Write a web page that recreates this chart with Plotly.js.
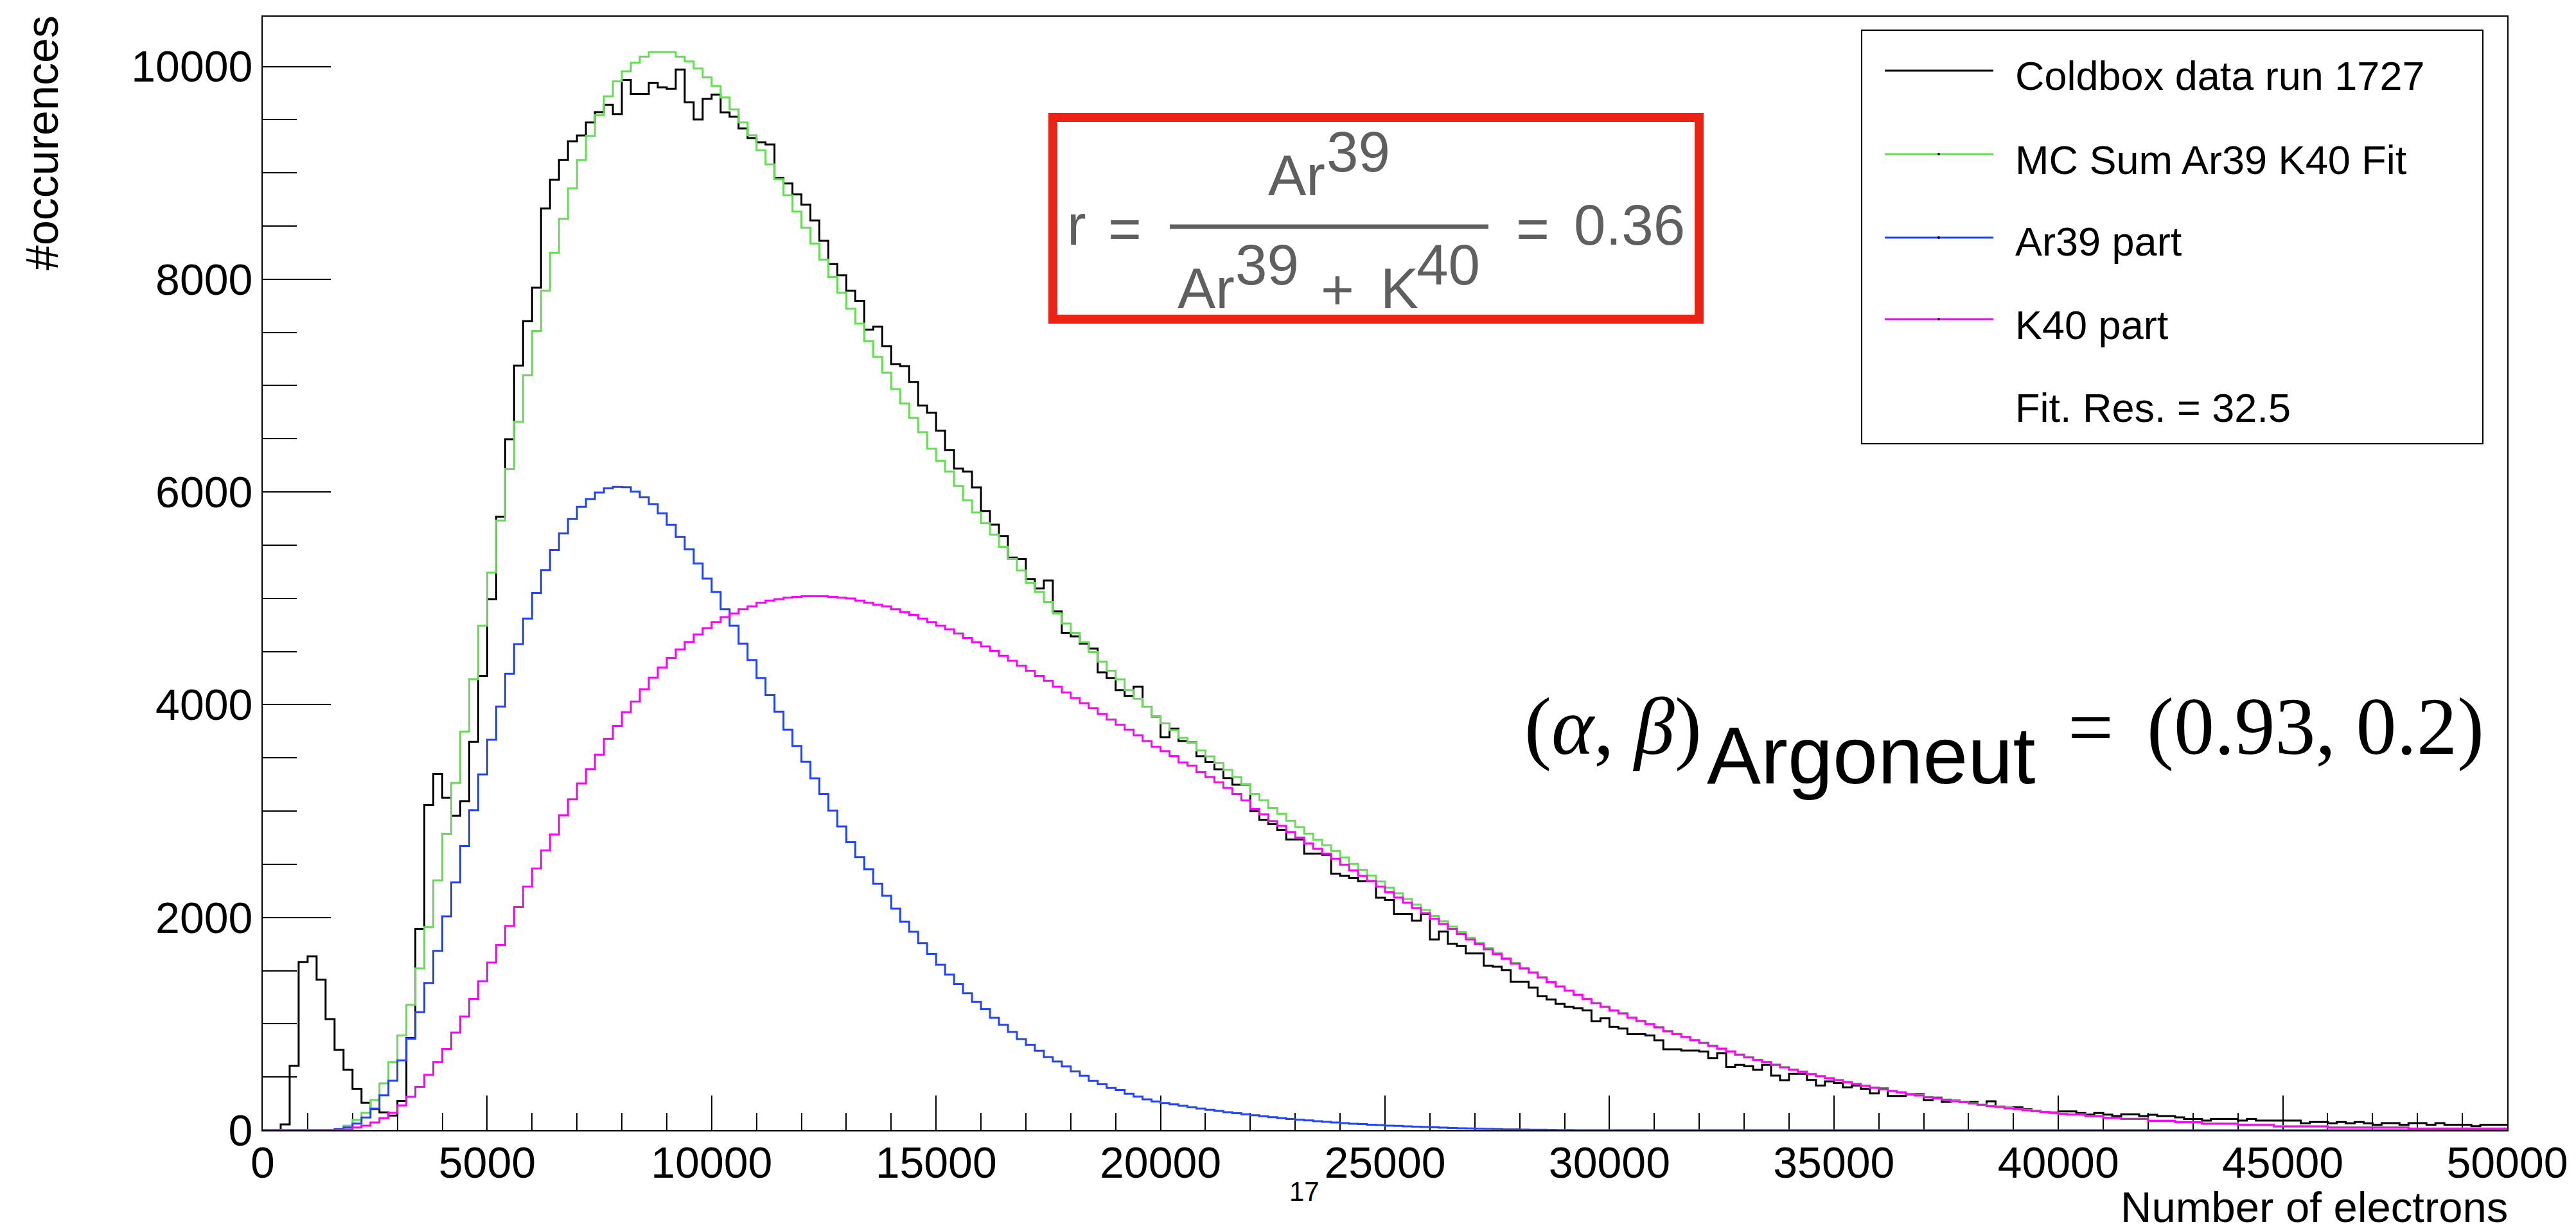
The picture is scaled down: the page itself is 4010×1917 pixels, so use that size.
<!DOCTYPE html>
<html>
<head>
<meta charset="utf-8">
<script src="https://cdn.plot.ly/plotly-3.0.1.min.js"></script>
<style>
  html, body { margin: 0; padding: 0; background: #ffffff; }
  #chart { width: 4010px; height: 1917px; }
</style>
</head>
<body>
<div id="chart"></div>
<script>
// ---------------- DATA (histograms, 250 bins of 200 electrons, 0..50000) ----------------
const X_MIN = 0;
const X_MAX = 50000;
const N_BINS = 250;

const seriesNames = ["Coldbox data run 1727", "MC Sum Ar39 K40 Fit", "Ar39 part", "K40 part"];
const fitResidual = "Fit. Res. = 32.5";

const coldboxData = [
0,0,55,605,1580,1635,1415,1045,755,567,
390,258,198,168,138,274,867,1893,3058,3348,
3126,2957,3092,3651,4271,4993,5767,6495,7189,7607,
7920,8665,8935,9120,9297,9351,9474,9570,9639,9552,
9874,9740,9740,9844,9804,9790,9971,9663,9502,9695,
9736,9568,9528,9418,9327,9287,9267,8951,8900,8798,
8700,8553,8361,8143,8036,7891,7796,7526,7553,7371,
7202,7182,7034,6812,6744,6576,6394,6219,6192,6043,
5821,5693,5585,5383,5370,5181,5093,5168,4878,4676,
4642,4575,4528,4305,4251,4137,4083,4170,3982,3888,
3695,3775,3659,3647,3515,3462,3392,3309,3248,3248,
3000,2918,2877,2823,2733,2733,2601,2601,2588,2411,
2391,2370,2341,2341,2185,2164,2032,2032,1970,2032,
1793,1867,1752,1731,1662,1662,1546,1538,1505,1394,
1394,1340,1258,1229,1188,1159,1147,1126,1023,1052,
970,956,902,902,890,845,761,761,749,749,
739,678,725,594,614,600,568,614,513,469,
529,529,473,419,459,443,403,419,389,346,
393,322,322,336,338,282,306,266,278,266,
266,238,272,222,212,216,196,181,171,167,
177,177,161,147,161,147,133,149,149,133,
145,133,133,121,105,105,91,105,105,105,
91,105,91,91,91,91,91,65,77,77,
65,77,65,77,65,51,67,67,51,67,
67,51,67,51,51,51,37,51,51,51
];

const mcSumFit = [
0,0,0,0,0,0,0,0,6,42,
97,163,284,441,642,891,1179,1521,1909,2349,
2786,3264,3748,4239,4743,5241,5731,6215,6659,7096,
7513,7892,8250,8568,8854,9120,9347,9542,9719,9860,
9955,10037,10092,10136,10136,10136,10092,10047,9981,9897,
9816,9709,9597,9474,9353,9212,9080,8940,8790,8637,
8485,8335,8184,8020,7872,7722,7583,7418,7270,7122,
6967,6832,6697,6562,6407,6293,6192,6057,5922,5808,
5707,5599,5484,5370,5262,5147,5060,4965,4858,4763,
4676,4588,4494,4406,4319,4238,4137,4056,3982,3888,
3824,3761,3689,3645,3570,3513,3451,3388,3321,3250,
3161,3101,3028,2975,2909,2850,2787,2730,2679,2625,
2564,2504,2448,2394,2338,2281,2227,2174,2120,2070,
2014,1964,1913,1862,1809,1761,1712,1666,1618,1572,
1526,1485,1439,1395,1353,1312,1274,1235,1196,1161,
1128,1100,1060,1029,999,969,933,905,879,848,
822,796,768,742,713,687,663,643,617,593,
571,551,530,510,490,472,454,436,420,402,
386,371,357,341,329,313,301,289,275,265,
253,241,228,220,208,200,190,184,174,164,
155,150,150,134,134,118,118,108,108,108,
90,90,90,79,79,79,63,63,63,63,
53,53,53,53,37,37,37,37,37,37,
27,27,27,27,27,27,27,27,27,17,
17,17,17,17,17,17,17,17,17,17
];

const ar39Part = [
0,0,0,0,0,0,0,0,10,26,
62,119,203,328,465,656,861,1109,1384,1686,
2010,2330,2672,3008,3345,3670,3983,4290,4570,4810,
5050,5265,5455,5610,5745,5860,5933,5995,6034,6048,
6045,6003,5950,5886,5799,5691,5577,5460,5328,5185,
5060,4898,4743,4575,4420,4251,4090,3934,3766,3611,
3463,3308,3160,3005,2856,2708,2567,2452,2317,2203,
2082,1960,1866,1758,1657,1556,1462,1374,1287,1206,
1138,1057,990,923,855,801,747,687,646,599,
552,512,464,431,397,377,343,316,290,270,
255,243,230,216,204,192,181,169,160,149,
140,131,122,113,106,98,92,85,78,73,
67,61,57,52,48,43,40,36,33,30,
27,24,21,18,16,14,12,10,8,7,
6,5,4,3,2,1,0,0,0,0,
0,0,0,0,0,0,0,0,0,0,
0,0,0,0,0,0,0,0,0,0,
0,0,0,0,0,0,0,0,0,0,
0,0,0,0,0,0,0,0,0,0,
0,0,0,0,0,0,0,0,0,0,
0,0,0,0,0,0,0,0,0,0,
0,0,0,0,0,0,0,0,0,0,
0,0,0,0,0,0,0,0,0,0,
0,0,0,0,0,0,0,0,0,0,
0,0,0,0,0,0,0,0,0,0
];

const k40Part = [
0,0,0,0,0,0,0,0,0,6,
26,42,72,113,163,233,314,408,521,642,
763,917,1068,1235,1400,1575,1742,1919,2098,2290,
2460,2630,2780,2960,3110,3260,3395,3530,3680,3800,
3930,4030,4145,4255,4350,4440,4520,4590,4660,4720,
4777,4824,4858,4898,4925,4959,4979,4992,5006,5013,
5019,5019,5019,5013,5006,4999,4979,4959,4939,4925,
4898,4871,4844,4810,4777,4743,4709,4669,4628,4588,
4548,4507,4460,4413,4366,4319,4271,4224,4170,4116,
4063,4015,3968,3914,3860,3813,3766,3712,3658,3604,
3564,3516,3457,3427,3365,3320,3270,3218,3161,3100,
3021,2970,2906,2861,2803,2751,2695,2645,2600,2552,
2497,2442,2391,2342,2290,2237,2187,2138,2087,2040,
1987,1940,1892,1844,1793,1747,1700,1656,1610,1565,
1520,1480,1435,1392,1351,1311,1272,1233,1194,1159,
1125,1097,1057,1026,996,966,930,902,876,845,
819,793,765,739,710,684,660,640,614,590,
568,548,527,507,487,469,451,433,417,399,
383,368,354,338,326,310,298,286,272,262,
250,238,225,217,205,197,187,181,171,161,
152,147,147,131,131,115,115,105,105,105,
87,87,87,76,76,76,60,60,60,60,
50,50,50,50,34,34,34,34,34,34,
24,24,24,24,24,24,24,24,24,14,
14,14,14,14,14,14,14,14,14,14
];

const xTickVals = [0, 5000, 10000, 15000, 20000, 25000, 30000, 35000, 40000, 45000, 50000];
const yTickVals = [0, 2000, 4000, 6000, 8000, 10000];

// ---------------- STYLE / LAYOUT ----------------
const W = 4010, H = 1917;
const L = 409, R = 3903, T = 26, B = 1760;   // plot frame in pixels
const Y_TOP = 10468;
const SANS = "Liberation Sans, Arial, Helvetica, sans-serif";
const SERIF = "Liberation Serif, Times New Roman, serif";
const COLORS = ["#000000", "#66dd55", "#2244ff", "#ff00ff"];
const GREY = "#5f5f5f";

function px(p) { return (p - L) / (R - L); }
function py(p) { return (B - p) / (B - T); }

// bin edges
const binWidth = (X_MAX - X_MIN) / N_BINS;
const edges = [];
for (let i = 0; i <= N_BINS; i++) edges.push(X_MIN + i * binWidth);

function stepTrace(vals, color, name) {
  return {
    type: "scatter", mode: "lines", name: name,
    x: edges,
    y: vals.concat([vals[vals.length - 1]]),
    line: { shape: "hv", color: color, width: 3 },
    hoverinfo: "skip", showlegend: false
  };
}

const traces = [
  stepTrace(coldboxData, COLORS[0], seriesNames[0]),
  stepTrace(mcSumFit, COLORS[1], seriesNames[1]),
  stepTrace(ar39Part, COLORS[2], seriesNames[2]),
  stepTrace(k40Part, COLORS[3], seriesNames[3])
];

function ann(text, xPx, yMidPx, size, family, color, xanchor, extra) {
  return Object.assign({
    text: text, xref: "paper", yref: "paper",
    x: px(xPx), y: py(yMidPx),
    xanchor: xanchor || "center", yanchor: "middle",
    showarrow: false,
    font: { family: family, size: size, color: color || "#000000" },
    borderpad: 0
  }, extra || {});
}

const annotations = [];
// axis titles
annotations.push(ann("#occurences", 66, 223, 70, SANS, "#000", "center", { textangle: -90 }));
annotations.push(ann("Number of electrons", 3905, 1879, 67, SANS, "#000", "right"));
annotations.push(ann("17", 2030, 1855, 42, SANS, "#000", "center"));

// legend
const legRows = [110, 240, 370, 497];
const legTextBase = [140, 271, 398, 528, 657];
const legTexts = seriesNames.concat([fitResidual]);
legTexts.forEach((t, i) => {
  annotations.push(ann(t, 3136, legTextBase[i] - 22, 63, SANS, "#000", "left"));
});

// formula box r = Ar39/(Ar39+K40) = 0.36
const FS = 89;
const mid = (base) => base - 0.345 * FS;
annotations.push(ann("r", 1676, mid(381), FS, SANS, GREY, "center"));
annotations.push(ann("=", 1751, mid(387), FS, SANS, GREY, "center"));
annotations.push(ann("Ar", 2018, mid(304), FS, SANS, GREY, "center"));
annotations.push(ann("39", 2114, mid(267), FS, SANS, GREY, "center"));
annotations.push(ann("Ar", 1877, mid(480), FS, SANS, GREY, "center"));
annotations.push(ann("39", 1972, mid(443), FS, SANS, GREY, "center"));
annotations.push(ann("+", 2082, mid(482), FS, SANS, GREY, "center"));
annotations.push(ann("K", 2178, mid(480), FS, SANS, GREY, "center"));
annotations.push(ann("40", 2254, mid(443), FS, SANS, GREY, "center"));
annotations.push(ann("=", 2386, mid(387), FS, SANS, GREY, "center"));
annotations.push(ann("0.36", 2536, mid(381), FS, SANS, GREY, "center"));

// (alpha, beta)_Argoneut = (0.93, 0.2)
const FB = 126;
annotations.push(ann("(<i>α</i>, <i>β</i>)", 2511, 1175 - 0.338 * FB, FB, SERIF, "#000", "center"));
annotations.push(ann("Argoneut", 2912, 1220 - 0.346 * FB, FB, SANS, "#000", "center"));
annotations.push(ann("=", 3254, 1175 - 0.338 * FB, FB, SERIF, "#000", "center"));
annotations.push(ann("(0.93, 0.2)", 3604, 1175 - 0.338 * FB, FB, SERIF, "#000", "center"));

const shapes = [];
// legend box
shapes.push({ type: "rect", xref: "paper", yref: "paper",
  x0: px(2898), x1: px(3865), y0: py(691), y1: py(47),
  line: { color: "#000", width: 2 }, fillcolor: "#ffffff", layer: "above" });
legRows.forEach((yy, i) => {
  shapes.push({ type: "line", xref: "paper", yref: "paper",
    x0: px(2934), x1: px(3103), y0: py(yy), y1: py(yy),
    line: { color: COLORS[i], width: 3 } });
  if (i > 0) {
    shapes.push({ type: "circle", xref: "paper", yref: "paper",
      x0: px(3016), x1: px(3020), y0: py(yy + 2), y1: py(yy - 2),
      line: { color: "#000", width: 0 }, fillcolor: "#000" });
  }
});
// formula box
shapes.push({ type: "rect", xref: "paper", yref: "paper",
  x0: px(1639), x1: px(2645), y0: py(497), y1: py(183),
  line: { color: "#ec2314", width: 14 }, fillcolor: "#ffffff", layer: "above" });
shapes.push({ type: "line", xref: "paper", yref: "paper",
  x0: px(1821), x1: px(2317), y0: py(353), y1: py(353),
  line: { color: GREY, width: 7 } });

const axisCommon = {
  showgrid: false, zeroline: false,
  showline: true, linecolor: "#000", linewidth: 2, mirror: true,
  ticks: "inside", tickcolor: "#000", tickwidth: 2,
  tickfont: { family: SANS, size: 68, color: "#000" },
  tickformat: "d", layer: "below traces",
  fixedrange: true
};

const layout = {
  width: W, height: H,
  margin: { l: L, r: W - R, t: T, b: H - B, pad: 0 },
  paper_bgcolor: "#ffffff", plot_bgcolor: "#ffffff",
  showlegend: false,
  xaxis: Object.assign({}, axisCommon, {
    range: [X_MIN, X_MAX], tickmode: "array", tickvals: xTickVals,
    ticklen: 54, ticklabelstandoff: -10,
    minor: { dtick: 1000, tick0: 0, ticks: "inside", ticklen: 27, tickwidth: 2, tickcolor: "#000", showgrid: false }
  }),
  yaxis: Object.assign({}, axisCommon, {
    range: [0, Y_TOP], tickmode: "array", tickvals: yTickVals,
    ticklen: 106,
    minor: { dtick: 500, tick0: 0, ticks: "inside", ticklen: 53, tickwidth: 2, tickcolor: "#000", showgrid: false }
  }),
  annotations: annotations,
  shapes: shapes
};

Plotly.newPlot("chart", traces, layout, { staticPlot: true, displayModeBar: false });
</script>
</body>
</html>
